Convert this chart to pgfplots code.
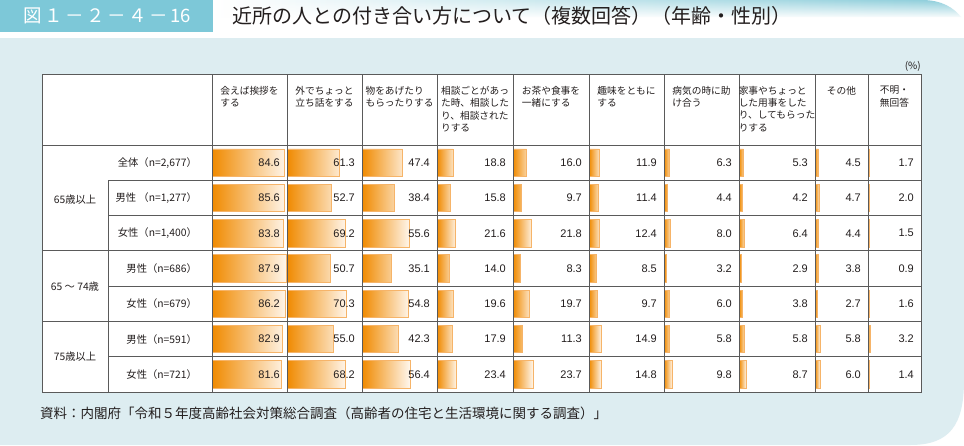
\documentclass[border=0pt]{standalone}
\usepackage{fontspec}
\setmainfont{Noto Sans CJK JP}
\newfontfamily\numfont{Liberation Sans}
\usepackage{pgfplots}
\pgfplotsset{compat=1.18}
\usepackage{pgfplotstable}
\usetikzlibrary{fadings}

\definecolor{titlebox}{RGB}{125,200,216}
\definecolor{panel}{RGB}{221,237,241}
\definecolor{gridc}{RGB}{90,90,90}
\definecolor{barorange}{RGB}{240,138,0}
\definecolor{barlight}{RGB}{255,247,238}
\definecolor{barline}{RGB}{246,180,105}
\definecolor{rimteal}{RGB}{140,205,218}
\definecolor{txt}{RGB}{35,30,30}

\pgfplotstableread{
r c1 c2 c3 c4 c5 c6 c7 c8 c9 c10
1 84.6 61.3 47.4 18.8 16.0 11.9 6.3 5.3 4.5 1.7
2 85.6 52.7 38.4 15.8 9.7 11.4 4.4 4.2 4.7 2.0
3 83.8 69.2 55.6 21.6 21.8 12.4 8.0 6.4 4.4 1.5
4 87.9 50.7 35.1 14.0 8.3 8.5 3.2 2.9 3.8 0.9
5 86.2 70.3 54.8 19.6 19.7 9.7 6.0 3.8 2.7 1.6
6 82.9 55.0 42.3 17.9 11.3 14.9 5.8 5.8 5.8 3.2
7 81.6 68.2 56.4 23.4 23.7 14.8 9.8 8.7 6.0 1.4
}\datatable

% #1 left (px), #2 width (px), #3 xmax (= width/0.85), #4 column
\newcommand{\colaxis}[4]{%
\begin{axis}[at={(#1pt,-392pt)}, anchor=south west, width=#2pt, height=247pt,
  scale only axis, hide axis, xmin=0, xmax=#3, ymin=0.5, ymax=7.5,
  y dir=reverse, clip=false]
\addplot[xbar, bar width=27.5pt, draw=barline, line width=0.8pt,
  left color=barorange, right color=barlight] table[x=#4, y=r]{\datatable};
\addplot[only marks, mark=none, nodes near coords, point meta=explicit symbolic,
  nodes near coords align={anchor=east},
  every node near coord/.append style={anchor=east, inner sep=0pt, text=txt,
  font=\numfont\fontsize{11}{13}\selectfont}]
  table[x expr={#3-8.2}, y=r, meta=#4]{\datatable};
\end{axis}}

\begin{document}
\begin{tikzpicture}
\begin{scope}[x=1pt,y=-1pt]
% page
\fill[white] (0,0) rectangle (964,445);
% top rim
\shade[left color=white, right color=rimteal] (213,0) -- (922,0) .. controls (942,0) and (954,8) .. (961,17) -- (213,17) -- cycle;
\fill[white, path fading=north] (213,0) rectangle (964,18);
% panel
\fill[panel] (0,38) -- (964,38) -- (964,380) .. controls (964,425) and (950,445) .. (910,445) -- (0,445) -- cycle;
% title
\fill[titlebox] (0,0) rectangle (213,32);
\node[anchor=center, text=white, font=\fontsize{18.5}{20}\selectfont, inner sep=0pt] at (107,16) {図\hspace{2.5pt}１\hspace{2.5pt}－\hspace{2.5pt}２\hspace{2.5pt}－\hspace{2.5pt}４\hspace{2.5pt}－\hspace{2.5pt}16};
\node[anchor=west, text=txt, font=\fontsize{20}{22}\selectfont, inner sep=0pt] at (232,16) {近所の人との付き合い方について（複数回答）（年齢・性別）};
% (%)
\node[anchor=east, text=txt, font=\fontsize{10}{12}\selectfont, inner sep=0pt] at (921,66) {(\%)};
% table background
\fill[white] (42,74) rectangle (921,392);
\end{scope}

\colaxis{212}{75}{88.235}{c1}
\colaxis{287}{75}{88.235}{c2}
\colaxis{362}{75}{88.235}{c3}
\colaxis{437}{76}{89.412}{c4}
\colaxis{513}{76}{89.412}{c5}
\colaxis{589}{75}{88.235}{c6}
\colaxis{664}{75}{88.235}{c7}
\colaxis{739}{76}{89.412}{c8}
\colaxis{815}{53}{62.353}{c9}
\colaxis{868}{53}{62.353}{c10}

\begin{scope}[x=1pt,y=-1pt]
% grid
\draw[gridc, line width=0.9pt] (42,74) rectangle (921,392);
\draw[gridc, line width=0.9pt] (42,145) -- (921,145);
\draw[gridc, line width=0.9pt] (42,250.9) -- (921,250.9);
\draw[gridc, line width=0.9pt] (42,321.4) -- (921,321.4);
\foreach \yy in {180.3,215.6,286.1,356.7} \draw[gridc, line width=0.9pt] (108,\yy) -- (921,\yy);
\draw[gridc, line width=0.9pt] (108,180.3) -- (108,392);
\foreach \xx in {212,287,362,437,513,589,664,739,815,868} \draw[gridc, line width=0.9pt] (\xx,74) -- (\xx,392);
% headers
\tikzset{hdr/.style={anchor=north, align=left, inner sep=0pt, text=txt, font=\fontsize{9.7}{12.3}\selectfont}}
\node[hdr] at (249.5,86) {会えば挨拶を\\する};
\node[hdr] at (324.5,86) {外でちょっと\\立ち話をする};
\node[hdr] at (399.5,86) {物をあげたり\\もらったりする};
\node[hdr] at (475,86) {相談ごとがあっ\\た時、相談した\\り、相談された\\りする};
\node[hdr] at (551,86) {お茶や食事を\\一緒にする};
\node[hdr] at (626.5,86) {趣味をともに\\する};
\node[hdr] at (701.5,86) {病気の時に助\\け合う};
\node[hdr] at (777,86) {家事やちょっと\\した用事をした\\り、してもらった\\りする};
\node[hdr, align=center] at (841.5,86) {その他};
\node[hdr, align=center] at (894.5,86) {不明・\\無回答};
% row labels
\tikzset{rl/.style={anchor=east, inner sep=0pt, text=txt, font=\fontsize{10.3}{12}\selectfont}}
\node[rl] at (197,162.6) {全体（n=2,677）};
\node[rl] at (197,197.9) {男性 （n=1,277）};
\node[rl] at (197,233.2) {女性（n=1,400）};
\node[rl] at (197,268.5) {男性（n=686）};
\node[rl] at (197,303.8) {女性（n=679）};
\node[rl] at (197,339.1) {男性（n=591）};
\node[rl] at (197,374.4) {女性（n=721）};
\tikzset{gl/.style={anchor=center, inner sep=0pt, text=txt, font=\fontsize{10.3}{12}\selectfont}}
\node[gl] at (75,199.5) {65歳以上};
\node[gl] at (75,286.1) {65 ～ 74歳};
\node[gl] at (75,356.7) {75歳以上};
% footer
\node[anchor=west, inner sep=0pt, text=txt, font=\fontsize{13.5}{15}\selectfont] at (40,413) {資料：内閣府「令和５年度高齢社会対策総合調査（高齢者の住宅と生活環境に関する調査）」};
\end{scope}
\end{tikzpicture}
\end{document}
